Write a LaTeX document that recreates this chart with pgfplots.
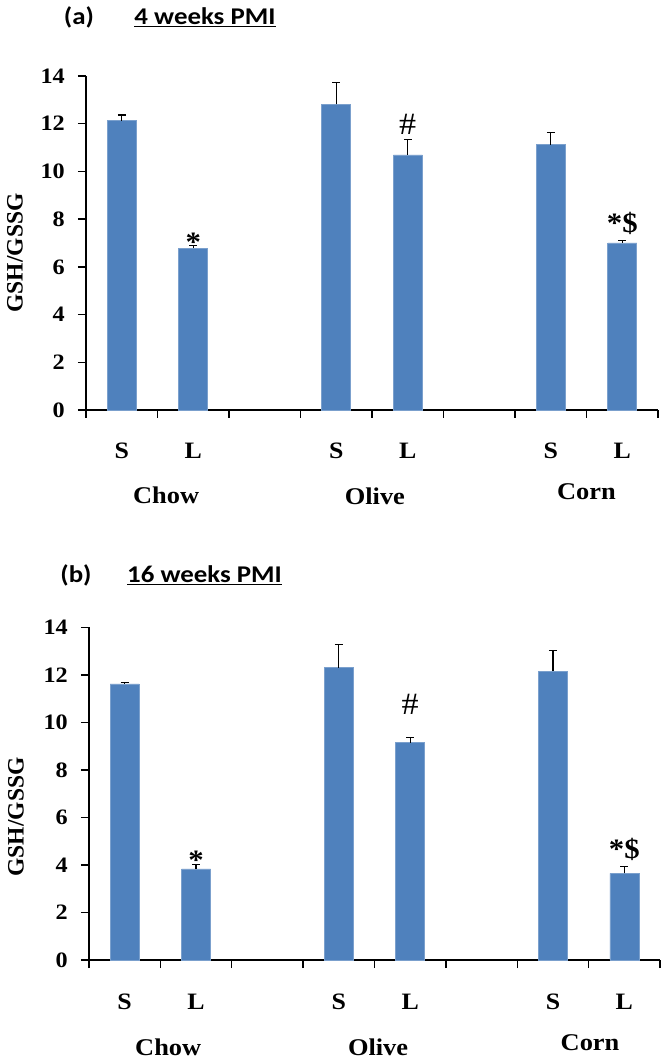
\documentclass[border=0pt]{standalone}
\usepackage{fontspec}
\setmainfont{Liberation Serif}[FakeStretch=1.1]
\newfontfamily\ylabfont{Liberation Serif}
\newfontfamily\titlefont{Carlito}[FakeStretch=1.12]
\usepackage{pgfplots}
\pgfplotsset{compat=1.18}
\definecolor{barblue}{HTML}{4F81BD}

\pgfplotsset{
  gsh/.style={
    scale only axis, width=572pt, height=334pt,
    xmin=0, xmax=8, ymin=0, ymax=14,
    axis x line=bottom, axis y line=left,
    axis line style={-, line width=1.6pt},
    tick align=outside, major tick length=8pt,
    tick style={black, line width=1.4pt},
    xtick={0,...,8}, xticklabel=\empty,
    ytick={0,2,...,14},
    yticklabels={0,2,4,6,8,10,12,14},
    yticklabel style={font=\bfseries\fontsize{22}{22}\selectfont, inner sep=1pt, xshift=-12pt},
    clip=false,
    ybar, bar width=29pt,
  },
  gshbar/.style={
    fill=barblue, draw=barblue!75!white, line width=0.6pt,
    error bars/.cd, y dir=plus, y explicit,
    error bar style={black, line width=1.3pt},
    error mark options={black, line width=1.3pt, mark size=4pt, rotate=90},
  },
}
\newcommand{\catfont}{\bfseries\fontsize{23.5}{23.5}\selectfont}
\newcommand{\grpfont}{\bfseries\fontsize{24}{24}\selectfont}
\newcommand{\starfont}{\bfseries\fontsize{28}{28}\selectfont}
\newcommand{\hashfont}{\fontsize{31}{31}\selectfont}

\begin{document}
\begin{tikzpicture}
\useasboundingbox (0,0) rectangle (664pt,1061pt);

% (a) 4 weeks PMI
\begin{axis}[gsh, at={(86pt,651pt)}, anchor=south west]
\addplot[gshbar] coordinates {
  (0.5,12.13) +- (0,0.24)
  (1.5,6.78)  +- (0,0.11)
  (3.5,12.81) +- (0,0.91)
  (4.5,10.69) +- (0,0.66)
  (6.5,11.12) +- (0,0.50)
  (7.5,7.00)  +- (0,0.11)
};
\node[font=\starfont, anchor=base] at (axis cs:1.5,6.66) {*};
\node[font=\hashfont, anchor=base] at (axis cs:4.5,11.53) {\#};
\node[font=\starfont, anchor=base] at (axis cs:7.5,7.42) {*\$};
\node[font=\catfont] at (axis cs:0.5,0) [yshift=-41pt] {S};
\node[font=\catfont] at (axis cs:1.5,0) [yshift=-41pt] {L};
\node[font=\catfont] at (axis cs:3.5,0) [yshift=-41pt] {S};
\node[font=\catfont] at (axis cs:4.5,0) [yshift=-41pt] {L};
\node[font=\catfont] at (axis cs:6.5,0) [yshift=-41pt] {S};
\node[font=\catfont] at (axis cs:7.5,0) [yshift=-41pt] {L};
\node[font=\grpfont] at (axis cs:1.12,0) [yshift=-85pt] {Chow};
\node[font=\grpfont] at (axis cs:4.04,0) [yshift=-86pt] {Olive};
\node[font=\grpfont] at (axis cs:7.0,0) [yshift=-82pt] {Corn};
\end{axis}

% (b) 16 weeks PMI
\begin{axis}[gsh, width=571pt, height=332.7pt, at={(89pt,101pt)}, anchor=south west]
\addplot[gshbar] coordinates {
  (0.5,11.62) +- (0,0.05)
  (1.5,3.83)  +- (0,0.20)
  (3.5,12.30) +- (0,0.99)
  (4.5,9.15)  +- (0,0.22)
  (6.5,12.16) +- (0,0.86)
  (7.5,3.65)  +- (0,0.28)
};
\node[font=\starfont, anchor=base] at (axis cs:1.5,3.82) {*};
\node[font=\hashfont, anchor=base] at (axis cs:4.5,10.31) {\#};
\node[font=\starfont, anchor=base] at (axis cs:7.5,4.27) {*\$};
\node[font=\catfont] at (axis cs:0.5,0) [yshift=-42pt] {S};
\node[font=\catfont] at (axis cs:1.5,0) [yshift=-42pt] {L};
\node[font=\catfont] at (axis cs:3.5,0) [yshift=-42pt] {S};
\node[font=\catfont] at (axis cs:4.5,0) [yshift=-42pt] {L};
\node[font=\catfont] at (axis cs:6.5,0) [yshift=-42pt] {S};
\node[font=\catfont] at (axis cs:7.5,0) [yshift=-42pt] {L};
\node[font=\grpfont] at (axis cs:1.11,0) [yshift=-87pt] {Chow};
\node[font=\grpfont] at (axis cs:4.05,0) [yshift=-87pt] {Olive};
\node[font=\grpfont] at (axis cs:7.02,0) [yshift=-83pt] {Corn};
\end{axis}

% titles and y labels
\node[font=\titlefont\bfseries\fontsize{24}{24}\selectfont] at (79pt,1044pt) {(a)};
\node[font=\titlefont\bfseries\fontsize{24}{24}\selectfont] at (205pt,1044pt) {\underline{4 weeks PMI}};
\node[font=\titlefont\bfseries\fontsize{24}{24}\selectfont] at (76pt,486pt) {(b)};
\node[font=\titlefont\bfseries\fontsize{24}{24}\selectfont] at (204.5pt,486pt) {\underline{16 weeks PMI}};
\node[font=\ylabfont\bfseries\fontsize{23.5}{23.5}\selectfont, rotate=90] at (15pt,808pt) {GSH/GSSG};
\node[font=\ylabfont\bfseries\fontsize{23.5}{23.5}\selectfont, rotate=90] at (16pt,244pt) {GSH/GSSG};
\end{tikzpicture}
\end{document}
